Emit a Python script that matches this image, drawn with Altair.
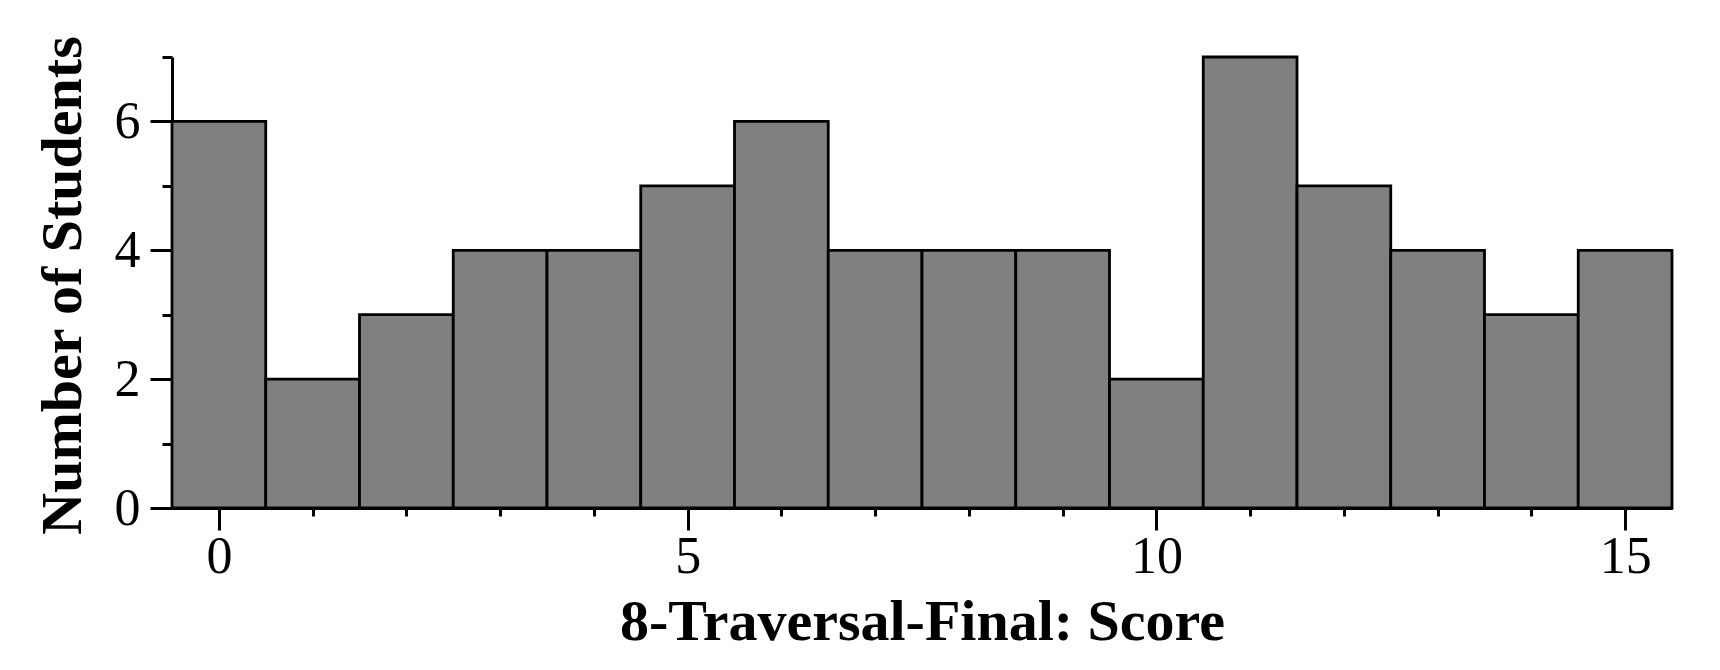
import altair as alt
import pandas as pd

# Data
scores = list(range(16))
counts = [6, 2, 3, 4, 4, 5, 6, 4, 4, 4, 2, 7, 5, 4, 3, 4]
x_tick_values = list(range(16))
y_tick_values = list(range(8))

df = pd.DataFrame({"score": scores, "count": counts})

SERIF = "Liberation Serif"

x_axis = alt.Axis(
    values=x_tick_values,
    labelExpr="datum.value % 5 === 0 ? datum.label : ''",
    labelOverlap=False,
    labelFlush=False,
    grid=False,
    domainColor="black",
    domainWidth=3,
    tickColor="black",
    tickWidth=3,
    tickSize={"condition": {"test": "datum.value % 5 === 0", "value": 22}, "value": 8},
    labelFont=SERIF,
    labelFontSize=52,
    labelColor="black",
    labelBaseline="alphabetic",
    labelPadding=42,
    title="8-Traversal-Final: Score",
    titleFont=SERIF,
    titleFontSize=58,
    titleFontWeight="bold",
    titleColor="black",
    titleBaseline="alphabetic",
    titleY=131,
)

y_axis = alt.Axis(
    values=y_tick_values,
    labelExpr="datum.value % 2 === 0 ? datum.label : ''",
    labelOverlap=False,
    labelFlush=False,
    grid=False,
    domainColor="black",
    domainWidth=3,
    tickColor="black",
    tickWidth=3,
    tickSize={"condition": {"test": "datum.value % 2 === 0", "value": 22}, "value": 10},
    labelFont=SERIF,
    labelFontSize=52,
    labelColor="black",
    labelBaseline="middle",
    labelPadding=10,
    title="Number of Students",
    titleFont=SERIF,
    titleFontSize=58,
    titleFontWeight="bold",
    titleColor="black",
    titleAngle=270,
    titleAlign="center",
    titleBaseline="alphabetic",
    titleX=-92,
    titleY=228,
)

chart = (
    alt.Chart(df)
    .transform_calculate(lo="datum.score - 0.5", hi="datum.score + 0.5")
    .mark_bar(fill="#808080", stroke="black", strokeWidth=2.8)
    .encode(
        x=alt.X("lo:Q", scale=alt.Scale(domain=[-0.5, 15.5], nice=False, zero=False), axis=x_axis),
        x2="hi:Q",
        y=alt.Y("count:Q", scale=alt.Scale(domain=[0, 7], nice=False), axis=y_axis),
        y2=alt.datum(0),
    )
    .properties(
        width=1500,
        height=451,
        background="white",
        autosize=alt.AutoSizeParams(type="none"),
        padding={"left": 164, "top": 49, "right": 40, "bottom": 150},
    )
    .configure_view(stroke=None, strokeWidth=0)
)

chart.save("out.html", embed_options={"renderer": "svg", "actions": False})
